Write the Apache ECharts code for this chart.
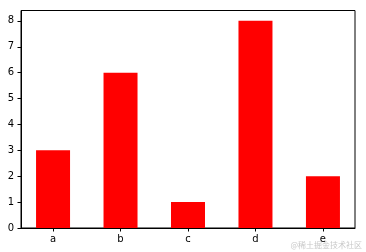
<!DOCTYPE html>
<html><head><meta charset="utf-8">
<script src="https://cdn.jsdelivr.net/npm/echarts@6/dist/echarts.min.js"></script>
<style>html,body{margin:0;padding:0;background:#fff}#c{width:366px;height:252px}</style>
</head><body><div id="c"></div>
<script>
const categories = ['a', 'b', 'c', 'd', 'e'];
const values = [3, 6, 1, 8, 2];
const yTicks = [0, 1, 2, 3, 4, 5, 6, 7, 8];
const xTicks = [0, 1, 2, 3, 4];

const chart = echarts.init(document.getElementById('c'), null, {renderer: 'canvas'});
const font = 'DejaVu Sans';
chart.setOption({
  animation: false,
  grid: {left: 21, right: 11, top: 10.5, bottom: 24, show: true, borderColor: '#000', borderWidth: 1, backgroundColor: 'transparent'},
  xAxis: {
    type: 'value', min: -0.475, max: 4.475,
    splitLine: {show: false},
    axisLine: {show: true, onZero: false, lineStyle: {color: '#000', width: 1}},
    axisTick: {show: true, length: 3.5, lineStyle: {color: '#000'}, customValues: xTicks},
    axisLabel: {customValues: xTicks, formatter: v => categories[Math.round(v)], color: '#000', fontFamily: font, fontSize: 10, margin: 6}
  },
  yAxis: {
    type: 'value', min: 0, max: 8.4,
    splitLine: {show: false},
    axisLine: {show: true, onZero: false, lineStyle: {color: '#000', width: 1}},
    axisTick: {show: true, length: 3.5, lineStyle: {color: '#000'}, customValues: yTicks},
    axisLabel: {customValues: yTicks, color: '#000', fontFamily: font, fontSize: 10, margin: 7}
  },
  series: [{
    type: 'bar',
    data: values.map((v, i) => [i, v]),
    barWidth: 34,
    itemStyle: {color: '#ff0000'}
  }],
  graphic: [{
    type: 'text', right: 4, bottom: 3,
    style: {text: '@稀土掘金技术社区', fill: '#c8c8c8', font: '8px "Noto Sans CJK SC"'}
  }]
});
</script></body></html>
